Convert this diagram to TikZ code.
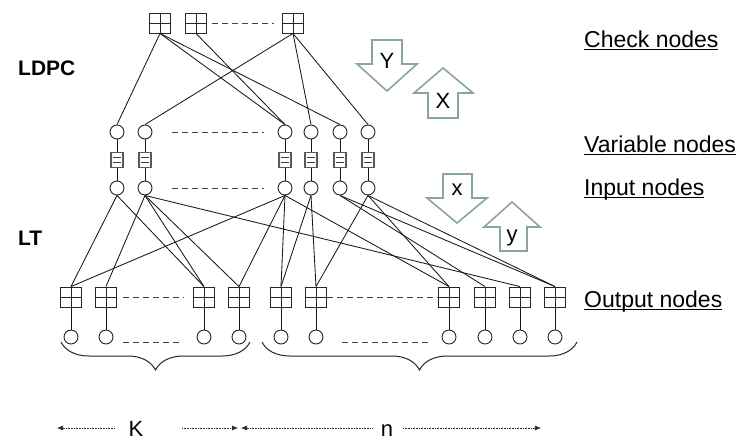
\documentclass[tikz,border=0pt]{standalone}
\usepackage{fontspec}
\setmainfont{Liberation Sans}
\usetikzlibrary{arrows.meta,decorations.pathreplacing}
\definecolor{arrc}{RGB}{140,163,163}
\newcommand\ulab[1]{\setbox0\hbox{#1}\rlap{\rule[-3.2pt]{\wd0}{1pt}}\box0}
\tikzset{
  chk/.style={draw=black!85, line width=0.9pt, minimum width=21pt, minimum height=20pt, inner sep=0pt,
    path picture={\draw[line width=0.9pt,black!85] (path picture bounding box.north)--(path picture bounding box.south)
      (path picture bounding box.west)--(path picture bounding box.east);}},
  varn/.style={circle, draw=black!85, line width=0.9pt, minimum size=14pt, inner sep=0pt},
  eqb/.style={draw=black!65, line width=1.2pt, minimum width=12pt, minimum height=14.5pt, inner sep=0pt,
    path picture={\draw[line width=1.1pt,black!75]
      ([xshift=-4pt,yshift=2.4pt]path picture bounding box.center) -- ++(8pt,0pt)
      ([xshift=-4pt,yshift=-2.4pt]path picture bounding box.center) -- ++(8pt,0pt);}},
  edge/.style={line width=0.85pt, draw=black!90},
  dashln/.style={line width=0.8pt, draw=black!75, dash pattern=on 6pt off 4pt},
  bigarr/.style={draw=arrc, line width=1.6pt, fill=white, line join=miter},
  arrlet/.style={font=\fontsize{22}{26}\selectfont, anchor=base, inner sep=0pt},
  lab/.style={font=\fontsize{23}{27}\selectfont, anchor=base west, inner sep=0pt},
  blab/.style={font=\bfseries\fontsize{21}{25}\selectfont, anchor=base west, inner sep=0pt},
  brc/.style={line width=1pt, draw=black!85, decorate, decoration={brace, mirror, amplitude=28pt}},
  dim/.style={line width=0.6pt, densely dotted, draw=black!85}
}
\begin{document}
\begin{tikzpicture}[x=1pt,y=-1pt]
\useasboundingbox[fill=white] (0,0) rectangle (738,440);

% check nodes
\node[chk] (C1) at (160,23) {};
\node[chk] (C2) at (196,23) {};
\node[chk] (C3) at (293,23) {};
\draw[dashln, shorten <=5pt, shorten >=8pt] (C2) -- (C3);

% variable / equal boxes / input nodes
\foreach \i/\x in {1/117,2/145,3/285,4/311,5/340,6/368}{
  \node[varn] (V\i) at (\x,132) {};
  \node[eqb] (E\i) at (\x,160) {};
  \node[varn] (I\i) at (\x,188) {};
  \draw[edge] (V\i) -- (E\i);
  \draw[edge] (E\i) -- (I\i);
}
\draw[dashln, shorten <=20pt, shorten >=14pt] (V2) -- (V3);
\draw[dashln, shorten <=20pt, shorten >=14pt] (I2) -- (I3);

% output nodes
\foreach \i/\x in {1/71,2/106,3/204,4/239,5/281,6/316,7/449,8/485,9/520,10/555}{
  \node[chk] (O\i) at (\x,297) {};
  \node[varn] (P\i) at (\x,337) {};
  \draw[edge] (O\i) -- (P\i);
}
\draw[dashln, shorten <=6pt, shorten >=10pt] (O2) -- (O3);
\draw[dashln, shorten <=0pt, shorten >=1pt] (O6) -- (O7);
\draw[dashln, shorten <=17pt, shorten >=21pt] ([yshift=-5pt]P2.center) -- ([yshift=-5pt]P3.center);
\draw[dashln, shorten <=26pt, shorten >=17pt] ([yshift=-5pt]P6.center) -- ([yshift=-5pt]P7.center);

% LDPC edges
\foreach \a/\b in {1/1,1/3,1/5,2/3,3/2,3/4,3/6}
  \draw[edge] (C\a.south) -- (V\b.north);

% LT edges
\foreach \a/\b in {1/1,1/3,2/2,2/3,2/4,2/9,3/1,3/4,3/5,3/7,4/5,4/6,5/8,5/10,6/6,6/7,6/10}
  \draw[edge] (I\a.south) -- (O\b.north);

% braces
\coordinate (bl1) at (61,342);
\coordinate (bl2) at (250,342);
\coordinate (br1) at (262,342);
\coordinate (br2) at (577,342);
\draw[brc] (bl1) -- (bl2);
\draw[brc] (br1) -- (br2);

% block arrows
\draw[bigarr] (372,40) -- (402,40) -- (402,64) -- (417,64) -- (387,91) -- (357,64) -- (372,64) -- cycle;
\node[arrlet] (tY) at (387,68) {Y};
\draw[bigarr] (428,118) -- (458,118) -- (458,93) -- (473,93) -- (443,68) -- (414,93) -- (428,93) -- cycle;
\node[arrlet] (tX) at (443,108) {X};
\draw[bigarr] (443,174) -- (472,174) -- (472,198) -- (487,198) -- (457,223) -- (427,198) -- (443,198) -- cycle;
\node[arrlet] (tx) at (457,195) {x};
\draw[bigarr] (500,251) -- (527,251) -- (527,227) -- (540,227) -- (512,202) -- (484,227) -- (500,227) -- cycle;
\node[arrlet] (ty) at (512,241) {y};

% left labels
\node[blab] (ldpc) at (18,75) {LDPC};
\node[blab] (lt) at (18,245) {LT};

% right labels
\node[lab] (lc) at (584,47) {\ulab{Check nodes}};
\node[lab] (lv) at (584,152) {\ulab{Variable nodes}};
\node[lab] (li) at (584,195) {\ulab{Input nodes}};
\node[lab] (lo) at (584,307) {\ulab{Output nodes}};

% K and n
\coordinate (kL) at (57,428);
\coordinate (kA) at (115,428);
\coordinate (kB) at (182,428);
\coordinate (kM) at (238,428);
\coordinate (nL) at (241,428);
\coordinate (nA) at (372,428);
\coordinate (nB) at (403,428);
\coordinate (nR) at (541,428);
\draw[dim, {Latex[length=6pt,width=5pt]}-] (kL) -- (kA);
\draw[dim, -{Latex[length=6pt,width=5pt]}] (kB) -- (kM);
\draw[dim, {Latex[length=6pt,width=5pt]}-] (nL) -- (nA);
\draw[dim, -{Latex[length=6pt,width=5pt]}] (nB) -- (nR);
\node[arrlet] (tK) at (136,436) {K};
\node[arrlet] (tn) at (387,436) {n};
\end{tikzpicture}
\end{document}
